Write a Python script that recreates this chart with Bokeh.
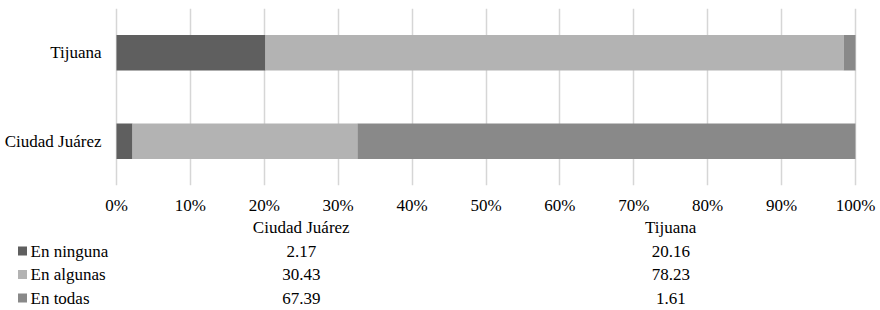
from bokeh.plotting import figure
from bokeh.models import FactorRange, Range1d, FixedTicker, PrintfTickFormatter, ColumnDataSource
from bokeh.layouts import column
from bokeh.core.properties import value
from bokeh.embed import file_html
from bokeh.resources import INLINE

# ---- data ----
cities = ["Ciudad Juárez", "Tijuana"]
series = ["En ninguna", "En algunas", "En todas"]
en_ninguna = [2.17, 20.16]
en_algunas = [30.43, 78.23]
en_todas = [67.39, 1.61]
colors = ["#5f5f5f", "#b3b3b3", "#898989"]
x_ticks = [0, 10, 20, 30, 40, 50, 60, 70, 80, 90, 100]

FONT = "'Liberation Serif', 'Times New Roman', serif"
FS = "17px"

# ---- layout constants (pixels) ----
LEFT = 116          # room for the category labels, left of 0%
RIGHT = 23
FRAME_W = 739       # pixels from 0% to 100%
FIG_W = LEFT + FRAME_W + RIGHT
TOP = 8
FRAME_H = 177
TABLE_H = 92
px_per_unit = FRAME_W / 100.0
x0 = -LEFT / px_per_unit
x1 = 100 + RIGHT / px_per_unit
xr = Range1d(x0, x1)

src = ColumnDataSource(dict(city=cities, **{
    "En ninguna": en_ninguna, "En algunas": en_algunas, "En todas": en_todas}))

p = figure(y_range=FactorRange(factors=cities), x_range=xr,
           y_axis_location=None,
           frame_width=FIG_W, frame_height=FRAME_H,
           min_border_left=0, min_border_right=0,
           min_border_top=TOP, min_border_bottom=0,
           output_backend="svg", toolbar_location=None)
p.hbar_stack(series, y="city", height=0.4, color=colors, source=src, line_width=0)

p.outline_line_color = None
p.ygrid.grid_line_color = None
p.xgrid.grid_line_color = "#d6d6d6"
p.xgrid.grid_line_width = 1.5
p.xaxis.ticker = FixedTicker(ticks=x_ticks)
p.xaxis.formatter = PrintfTickFormatter(format="%d%%")
ax = p.xaxis[0]
ax.axis_line_color = None
ax.major_tick_line_color = None
ax.minor_tick_line_color = None
ax.major_tick_out = 0
ax.major_tick_in = 0
ax.minor_tick_out = 0
ax.major_label_text_font = FONT
ax.major_label_text_font_size = FS
ax.major_label_text_color = "black"
ax.major_label_standoff = 10

txt = dict(text_font=value(FONT), text_font_size=FS, text_color="black",
           text_baseline="middle")

# category labels left of the 0% line
p.text(x=[-15 / px_per_unit] * len(cities), y=cities, text=cities,
       text_align="right", **txt)

# ---- data table below (same x scale) ----
row_px = 23.5
top_pad = 10
q = figure(x_range=xr,
           y_range=Range1d(3 + (TABLE_H - top_pad - 3 * row_px) / row_px, -top_pad / row_px),
           x_axis_location=None, y_axis_location=None,
           frame_width=FIG_W, frame_height=TABLE_H,
           min_border_left=0, min_border_right=0,
           min_border_top=0, min_border_bottom=0,
           output_backend="svg", toolbar_location=None)
q.grid.visible = False
q.outline_line_color = None

col_w = 100.0 / len(cities)
centers = [(i + 0.5) * col_w for i in range(len(cities))]

q.text(x=centers, y=[0] * len(cities), text=cities, text_align="center", **txt)

vals = [en_ninguna, en_algunas, en_todas]
rows = list(range(1, len(series) + 1))
for r, v in zip(rows, vals):
    q.text(x=centers, y=[r] * len(cities), text=[f"{a:.2f}" for a in v],
           text_align="center", **txt)

# legend keys
q.scatter(x=[x0 + 22 / px_per_unit] * len(series), y=rows, marker="square", size=9,
          color=colors, line_width=0)
q.text(x=[x0 + 30 / px_per_unit] * len(series), y=rows, text=series,
       text_align="left", **txt)

layout = column(p, q, spacing=0)
open("out.html", "w").write(file_html(layout, INLINE))
